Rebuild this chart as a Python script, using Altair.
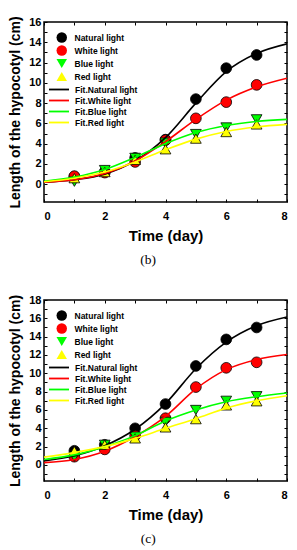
import altair as alt
import pandas as pd

days = [1, 2, 3, 4, 5, 6, 7]
fit_days = [0, 1, 2, 3, 4, 5, 6, 7, 8]
series = ["Natural light", "White light", "Blue light", "Red light"]
fit_series = ["Fit.Natural light", "Fit.White light", "Fit.Blue light", "Fit.Red light"]
point_colors = ["#000000", "#ff0000", "#00ff00", "#ffff00"]
point_shapes = ["circle", "circle", "triangle-down", "triangle-up"]
line_colors = ["#000000", "#ff0000", "#00ff00", "#ffff00"]
x_ticks = [0, 1, 2, 3, 4, 5, 6, 7, 8]

# panel (b)
b_natural = [0.75, 1.25, 2.6, 4.4, 8.4, 11.45, 12.75]
b_white = [0.8, 1.15, 2.2, 4.35, 6.5, 8.1, 9.8]
b_blue = [0.25, 1.4, 2.6, 4.1, 4.95, 5.6, 6.4]
b_red = [0.6, 1.2, 2.4, 3.45, 4.5, 5.15, 5.9]
b_fit_natural = [0.2, 0.45, 1.0, 2.3, 4.6, 8.0, 11.1, 12.9, 13.85]
b_fit_white = [0.2, 0.45, 1.05, 2.3, 4.2, 6.4, 8.3, 9.6, 10.45]
b_fit_blue = [0.3, 0.7, 1.45, 2.65, 4.0, 5.1, 5.8, 6.2, 6.4]
b_fit_red = [0.25, 0.6, 1.2, 2.2, 3.4, 4.45, 5.2, 5.65, 5.9]

# panel (c)
c_natural = [1.55, 2.2, 4.0, 6.65, 10.8, 13.7, 15.0]
c_white = [0.9, 1.7, 3.2, 5.1, 8.5, 10.6, 11.2]
c_blue = [0.9, 2.2, 3.1, 4.7, 6.0, 7.0, 7.5]
c_red = [1.5, 2.2, 2.9, 4.1, 5.0, 6.5, 6.95]
c_fit_natural = [0.45, 1.0, 2.1, 3.9, 6.7, 10.5, 13.4, 15.2, 16.15]
c_fit_white = [0.25, 0.6, 1.5, 3.1, 5.3, 8.3, 10.4, 11.5, 12.05]
c_fit_blue = [0.6, 1.1, 2.0, 3.2, 4.8, 6.0, 6.9, 7.45, 7.85]
c_fit_red = [0.85, 1.35, 2.0, 2.9, 4.0, 5.05, 6.2, 7.0, 7.55]

FONT = "Liberation Sans"
EVEN = "datum.value % 2 == 0 ? datum.label : ''"


def point_legend():
    return alt.Legend(orient="none", legendX=11.75, legendY=9.5, title=None,
                      symbolSize=110, symbolStrokeColor="black", symbolStrokeWidth=0.8,
                      labelOffset=6.75, rowPadding=-1, padding=0, labelFont=FONT,
                      labelFontWeight="bold", labelFontSize=8.5, labelColor="black",
                      symbolOpacity=1)


def panel(caption, pts, fits, ymax, height):
    prow = []
    for name, vals in zip(series, pts):
        for d, v in zip(days, vals):
            prow.append({"day": d, "len": v, "series": name})
    frow = []
    for name, vals in zip(fit_series, fits):
        for d, v in zip(fit_days, vals):
            frow.append({"day": d, "len": v, "fit": name})
    pdf = pd.DataFrame(prow)
    fdf = pd.DataFrame(frow)
    y_ticks = list(range(-1, ymax + 1))

    xs = alt.Scale(domain=[0, 8], nice=False)
    ys = alt.Scale(domain=[-1.75, ymax], nice=False, zero=False)

    x_main = alt.X("day:Q", scale=xs,
                   axis=alt.Axis(values=x_ticks, title="Time (day)", labelExpr=EVEN,
                                 orient="bottom", offset=-3, domain=False,
                                 labelPadding=8.5, titlePadding=7))
    y_main = alt.Y("len:Q", scale=ys,
                   axis=alt.Axis(values=y_ticks, title="Length of the hypocotyl (cm)",
                                 labelExpr=EVEN, orient="left", offset=-3, domain=False,
                                 labelPadding=3, titlePadding=6))
    x_mirror = alt.X("day:Q", scale=xs,
                     axis=alt.Axis(values=x_ticks, title=None, labels=False, orient="top",
                                   offset=-3, domain=False))
    y_mirror = alt.Y("len:Q", scale=ys,
                     axis=alt.Axis(values=y_ticks, title=None, labels=False, orient="right",
                                   offset=-3, domain=False))

    points = alt.Chart(pdf).mark_point(
        filled=True, size=115, stroke="black", strokeWidth=0.8, opacity=1
    ).encode(
        x=x_main, y=y_main,
        fill=alt.Fill("series:N", scale=alt.Scale(domain=series, range=point_colors),
                      legend=point_legend()),
        shape=alt.Shape("series:N", scale=alt.Scale(domain=series, range=point_shapes),
                        legend=point_legend()),
    )

    lines = alt.Chart(fdf).mark_line(interpolate="monotone", strokeWidth=1.6, clip=True).encode(
        x=x_mirror, y=y_mirror,
        stroke=alt.Stroke("fit:N", scale=alt.Scale(domain=fit_series, range=line_colors),
                          legend=alt.Legend(orient="none", legendX=9, legendY=61.5, title=None,
                                            symbolType="M-2,0L2,0", symbolSize=100,
                                            symbolStrokeWidth=1.8, labelOffset=10,
                                            rowPadding=0, padding=0, labelFont=FONT,
                                            labelFontWeight="bold", labelFontSize=8.5,
                                            labelColor="black")),
    )

    return alt.layer(points, lines).properties(
        width=243, height=height,
        title=alt.TitleParams(caption, orient="bottom", frame="bounds", anchor="middle",
                              font="Liberation Serif", fontSize=13.5, fontWeight="normal",
                              offset=9, color="black"),
    ).resolve_scale(
        fill="independent", shape="independent", stroke="independent"
    ).resolve_axis(x="independent", y="independent")


chart_b = panel("(b)", [b_natural, b_white, b_blue, b_red],
                [b_fit_natural, b_fit_white, b_fit_blue, b_fit_red], 16, 180)
chart_c = panel("(c)", [c_natural, c_white, c_blue, c_red],
                [c_fit_natural, c_fit_white, c_fit_blue, c_fit_red], 18, 181)

chart = alt.vconcat(chart_b, chart_c, spacing=98, bounds="flush",
                    padding={"top": 7, "left": 0, "right": 0, "bottom": 0}).resolve_scale(
    fill="independent", shape="independent", stroke="independent"
).resolve_legend(fill="independent", shape="independent", stroke="independent").configure_view(
    stroke="black", strokeWidth=1.5
).configure_axis(
    grid=False, tickColor="black", tickSize=3, tickWidth=1,
    labelFont=FONT, labelFontWeight="bold", labelFontSize=11, labelColor="black",
    titleFont=FONT, titleFontWeight="bold", titleFontSize=15, titleColor="black"
).configure_axisY(titleFontSize=14)

chart.save("out.html", embed_options={"renderer": "svg", "actions": False})
